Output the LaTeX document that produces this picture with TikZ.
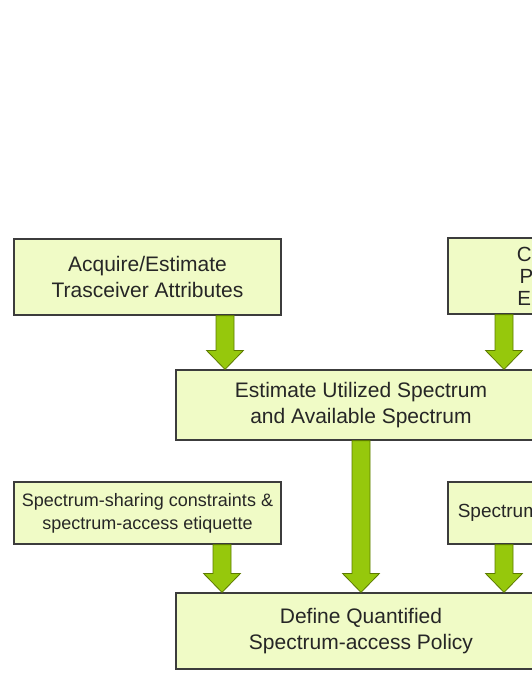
\documentclass[tikz,border=0pt]{standalone}
\usepackage{fontspec}
\setmainfont{Liberation Sans}
\usepackage{tikz}
\usetikzlibrary{calc}

\definecolor{boxfill}{RGB}{240,251,198}
\definecolor{boxedge}{RGB}{60,60,60}
\definecolor{arrowfill}{RGB}{150,200,12}
\definecolor{arrowedge}{RGB}{92,122,0}

\begin{document}
\begin{tikzpicture}[
    x=1pt, y=-1pt,
    box/.style={draw=boxedge, line width=1.2pt, fill=boxfill, inner sep=0pt, align=center,
      text=black!85, font=\fontsize{21}{25.5}\selectfont},
    wide/.style={box, minimum width=370pt, minimum height=#1},
    side/.style={box, minimum width=267pt, minimum height=#1},
    bigarrow/.style={draw=arrowedge, line width=0.8pt, fill=arrowfill, line join=miter},
  ]
    \useasboundingbox (0,0) rectangle (532,688);
    \clip (0,0) rectangle (532,688);

    \node[side=76pt] (acquire) at (147.5,277) {Acquire/Estimate\\Trasceiver Attributes};
    \node[box, minimum width=254pt, minimum height=76pt, font=\fontsize{20.5}{22}\selectfont]
      (propag) at (575,276) {Characterize\\Propagation\\Environment};
    \node[wide=70pt] (spectrum) at (361,405) {Estimate Utilized Spectrum\\and Available Spectrum};
    \node[side=62pt, font=\fontsize{18}{23}\selectfont] (etiquette) at (147.5,513)
      {Spectrum-sharing constraints \&\\spectrum-access etiquette};
    \node[box, minimum width=254pt, minimum height=62pt, font=\fontsize{19}{23}\selectfont]
      (regul) at (575,513) {Spectrum Regulatory Policy};
    \node[wide=76pt] (policy) at (361,631) {Define Quantified\\Spectrum-access Policy};

    % block arrows between the boxes
    \foreach \from/\to/\ax in {acquire/spectrum/225pt, propag/spectrum/504pt,
        spectrum/policy/361pt, etiquette/policy/222pt, regul/policy/504pt}
      \path[bigarrow] let \p1=(\from.south), \p2=(\to.north) in
        (\ax-9pt,\y1) -- (\ax+9pt,\y1) -- (\ax+9pt,\y2+19pt) -- (\ax+18.5pt,\y2+19pt)
        -- (\ax,\y2) -- (\ax-18.5pt,\y2+19pt) -- (\ax-9pt,\y2+19pt) -- cycle;
\end{tikzpicture}
\end{document}
